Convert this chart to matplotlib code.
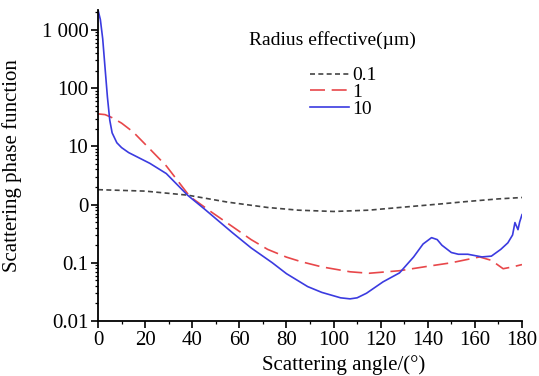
import matplotlib
matplotlib.use("Agg")
import matplotlib.pyplot as plt
import matplotlib.ticker as mticker
import numpy as np

# effective radius 0.1 um
ang_01 = [0, 20, 38, 55, 72, 85, 100, 115, 128, 145, 157, 170, 180]
val_01 = [1.8, 1.7, 1.45, 1.1, 0.89, 0.8, 0.76, 0.8, 0.89, 1.02, 1.13, 1.25, 1.32]

# effective radius 1 um
ang_1 = [0, 3, 6, 10, 15, 22, 29, 39, 48, 57, 65, 72, 80, 86, 95, 107, 115,
         128, 140, 150, 162, 167, 172, 176, 180]
val_1 = [36, 35, 31, 25, 17.5, 9, 4.6, 1.37, 0.75, 0.42, 0.25, 0.17, 0.125, 0.105,
         0.085, 0.07, 0.066, 0.073, 0.087, 0.1, 0.126, 0.11, 0.079, 0.085, 0.093]

# effective radius 10 um
ang_10 = [0, 1, 2, 3, 4, 5, 6, 8, 10, 13, 22, 29, 38, 45, 57, 65, 74, 80, 89,
          95, 103, 107, 110, 114, 121, 128, 134, 138, 141.6, 144, 146, 150, 153,
          157, 163, 167, 171, 174, 176, 177, 178.3, 179, 180]
val_10 = [2200, 1500, 700, 220, 70, 28, 17, 11.5, 9.5, 7.8, 5.1, 3.4, 1.45, 0.85,
          0.33, 0.18, 0.1, 0.065, 0.039, 0.031, 0.025, 0.024, 0.025, 0.03, 0.047,
          0.067, 0.126, 0.21, 0.27, 0.25, 0.2, 0.15, 0.14, 0.14, 0.126, 0.13, 0.17,
          0.22, 0.3, 0.49, 0.37, 0.5, 0.67]

ytick_vals = [0.01, 0.1, 1, 10, 100, 1000]
ytick_labels = ["0.01", "0.1", "0", "10", "100", "1 000"]
xtick_vals = [0, 20, 40, 60, 80, 100, 120, 140, 160, 180]

plt.rcParams['font.family'] = ['Liberation Serif', 'DejaVu Serif']

fig = plt.figure(figsize=(5.39, 3.76), dpi=100)
ax = fig.add_axes([98/539, 1-321/376, 424/539, 311/376])

ax.plot(ang_01, val_01, color='#444444', lw=1.2, linestyle=(0, (3, 2)), label='0.1')
ax.plot(ang_1, val_1, color='#e8474a', lw=1.2, linestyle=(0, (9, 4)), label='1')
ax.plot(ang_10, val_10, color='#3b3be0', lw=1.2, label='10')

ax.set_yscale('log')
ax.set_ylim(0.01, 2190)
ax.set_xlim(0, 180)
ax.set_yticks(ytick_vals)
ax.set_yticklabels(ytick_labels)
ax.yaxis.set_minor_locator(mticker.LogLocator(base=10, subs=np.arange(2, 10)))
ax.yaxis.set_minor_formatter(mticker.NullFormatter())
ax.set_xticks(xtick_vals)
ax.set_xticks(np.arange(10, 180, 20), minor=True)

for s in ['top', 'right']:
    ax.spines[s].set_visible(False)
for s in ['left', 'bottom']:
    ax.spines[s].set_linewidth(1.3)

ax.tick_params(which='major', direction='out', length=5, width=1.2, labelsize=15, pad=2)
ax.tick_params(which='minor', direction='out', length=2.5, width=0.9)

ax.set_xlabel("Scattering angle/(°)", fontsize=15)
ax.set_ylabel("Scattering phase function", fontsize=15)
ax.xaxis.set_label_coords(246/424, -0.11)
ax.yaxis.set_label_coords(-0.18, 0.5)

fig.text(332/539, 1-40/376, "Radius effective(µm)", fontsize=14,
         ha='center', va='center')
leg = ax.legend(loc='upper left', bbox_to_anchor=((300-98)/424, (321-57)/311),
                frameon=False, fontsize=14, handlelength=2.0, handletextpad=0.2,
                labelspacing=-0.04, borderpad=0)

fig.savefig("out.png", dpi=100)
